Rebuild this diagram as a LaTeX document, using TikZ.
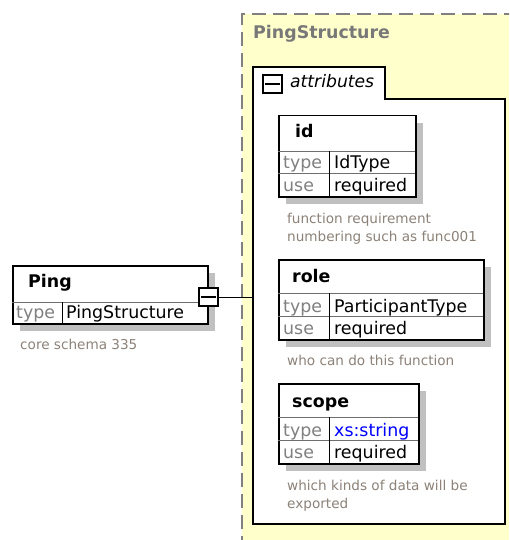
\documentclass[tikz,border=0pt]{standalone}
\usepackage{fontspec}
\setmainfont{DejaVu Sans}
\definecolor{bgyellow}{RGB}{255,255,204}
\definecolor{dashgray}{RGB}{128,128,128}
\definecolor{shadowgray}{RGB}{192,192,192}
\definecolor{lblgray}{RGB}{128,128,128}
\definecolor{notegray}{RGB}{140,130,120}
\definecolor{titlegray}{RGB}{120,120,120}
\definecolor{rowgray}{RGB}{110,110,110}
\definecolor{xsblue}{RGB}{0,0,255}
\begin{document}
\begin{tikzpicture}[x=1pt,y=-1pt,
  shadowbox/.style={fill=shadowgray,draw=none},
  elbox/.style={draw=black,line width=1.5pt,fill=white,inner sep=0pt,anchor=north west},
  rowline/.style={draw=rowgray,line width=0.9pt},
  divline/.style={draw=black,line width=0.9pt},
  hdrtext/.style={font=\fontsize{17.4}{20}\selectfont\bfseries,anchor=base west,inner sep=0pt},
  lbltext/.style={font=\fontsize{17.4}{20}\selectfont,text=lblgray,anchor=base west,inner sep=0pt},
  valtext/.style={font=\fontsize{17.4}{20}\selectfont,text=black,anchor=base west,inner sep=0pt},
  notetext/.style={font=\fontsize{13.6}{18}\selectfont,text=notegray,anchor=base west,inner sep=0pt},
  minusbox/.style={draw=black,fill=white,inner sep=0pt,anchor=north west}
]
\useasboundingbox (0,0) rectangle (509,540);
\clip (0,0) rectangle (509,540);

% yellow complex type area
\fill[bgyellow] (242,14) rectangle (520,550);
\draw[dashgray,line width=1.2pt,dash pattern=on 14pt off 7pt] (242,550) -- (242,14) -- (520,14);
\node[font=\fontsize{17.4}{20}\selectfont\bfseries,text=titlegray,anchor=base west,inner sep=0pt] (pstitle) at (253,39) {PingStructure};

% attributes box with tab
\node[inner sep=0pt,minimum width=252pt,minimum height=425pt,anchor=north west] (attrs) at (253,99) {};
\draw[black,line width=1.2pt,fill=white] (253,524) -- (253,67) -- (385,67) -- (385,99) -- (505,99) -- (505,524) -- cycle;
\node[minusbox,line width=1.6pt,minimum width=19pt,minimum height=18pt] (attrminus) at (262,74) {};
\draw[black,line width=1.5pt] ([xshift=3pt]attrminus.west) -- ([xshift=-3pt]attrminus.east);
\node[font=\fontsize{17.2}{20}\selectfont\itshape,anchor=base west,inner sep=0pt] (attrlabel) at (290,88) {attributes};

% ---- Ping element
\fill[shadowbox] (20,273) rectangle (215,331);
\node[elbox,minimum width=195pt,minimum height=58pt] (ping) at (12,265) {};
\draw[rowline] (12,302) -- (207,302);
\draw[divline] (62,302) -- (62,323);
\node[hdrtext] (pingname) at (28,287) {Ping};
\node[lbltext] (pingtypel) at (16,318) {type};
\node[valtext] (pingtypev) at (66,318) {PingStructure};
\node[notetext] (pingnote) at (20,349) {core schema 335};
\node[minusbox,line width=2.2pt,minimum width=19pt,minimum height=18pt] (pingminus) at (198,287) {};
\draw[black,line width=1.5pt] ([xshift=3pt]pingminus.west) -- ([xshift=-3pt]pingminus.east);
\draw[black,line width=1pt] (pingminus.east) -- (pingminus.east -| attrs.west);

% ---- id attribute
\fill[shadowbox] (286,123) rectangle (423,204);
\node[elbox,minimum width=137pt,minimum height=81pt] (idbox) at (278,115) {};
\draw[rowline] (278,151) -- (415,151);
\draw[rowline] (278,173) -- (415,173);
\draw[divline] (329,151) -- (329,196);
\node[hdrtext] (idname) at (295,138) {id};
\node[lbltext] (idtypel) at (283,168) {type};
\node[valtext] (idtypev) at (334,168) {IdType};
\node[lbltext] (iduse) at (283,191) {use};
\node[valtext] (idusev) at (334,191) {required};
\node[notetext] (idnote1) at (287,223) {function requirement};
\node[notetext] (idnote2) at (287,241) {numbering such as func001};

% ---- role attribute
\fill[shadowbox] (286,267) rectangle (491,347);
\node[elbox,minimum width=205pt,minimum height=80pt] (rolebox) at (278,259) {};
\draw[rowline] (278,293) -- (483,293);
\draw[rowline] (278,316) -- (483,316);
\draw[divline] (329,293) -- (329,339);
\node[hdrtext] (rolename) at (292,282) {role};
\node[lbltext] (roletypel) at (283,312) {type};
\node[valtext] (roletypev) at (334,312) {ParticipantType};
\node[lbltext] (roleuse) at (283,334) {use};
\node[valtext] (roleusev) at (334,334) {required};
\node[notetext] (rolenote) at (287,365) {who can do this function};

% ---- scope attribute
\fill[shadowbox] (286,391) rectangle (426,471);
\node[elbox,minimum width=140pt,minimum height=80pt] (scopebox) at (278,383) {};
\draw[rowline] (278,417) -- (418,417);
\draw[rowline] (278,440) -- (418,440);
\draw[divline] (329,417) -- (329,463);
\node[hdrtext] (scopename) at (292,407) {scope};
\node[lbltext] (scopetypel) at (283,436) {type};
\node[valtext,text=xsblue] (scopetypev) at (334,436) {xs:string};
\node[lbltext] (scopeuse) at (283,458) {use};
\node[valtext] (scopeusev) at (334,458) {required};
\node[notetext] (scopenote1) at (287,490) {which kinds of data will be};
\node[notetext] (scopenote2) at (287,508) {exported};
\end{tikzpicture}
\end{document}
